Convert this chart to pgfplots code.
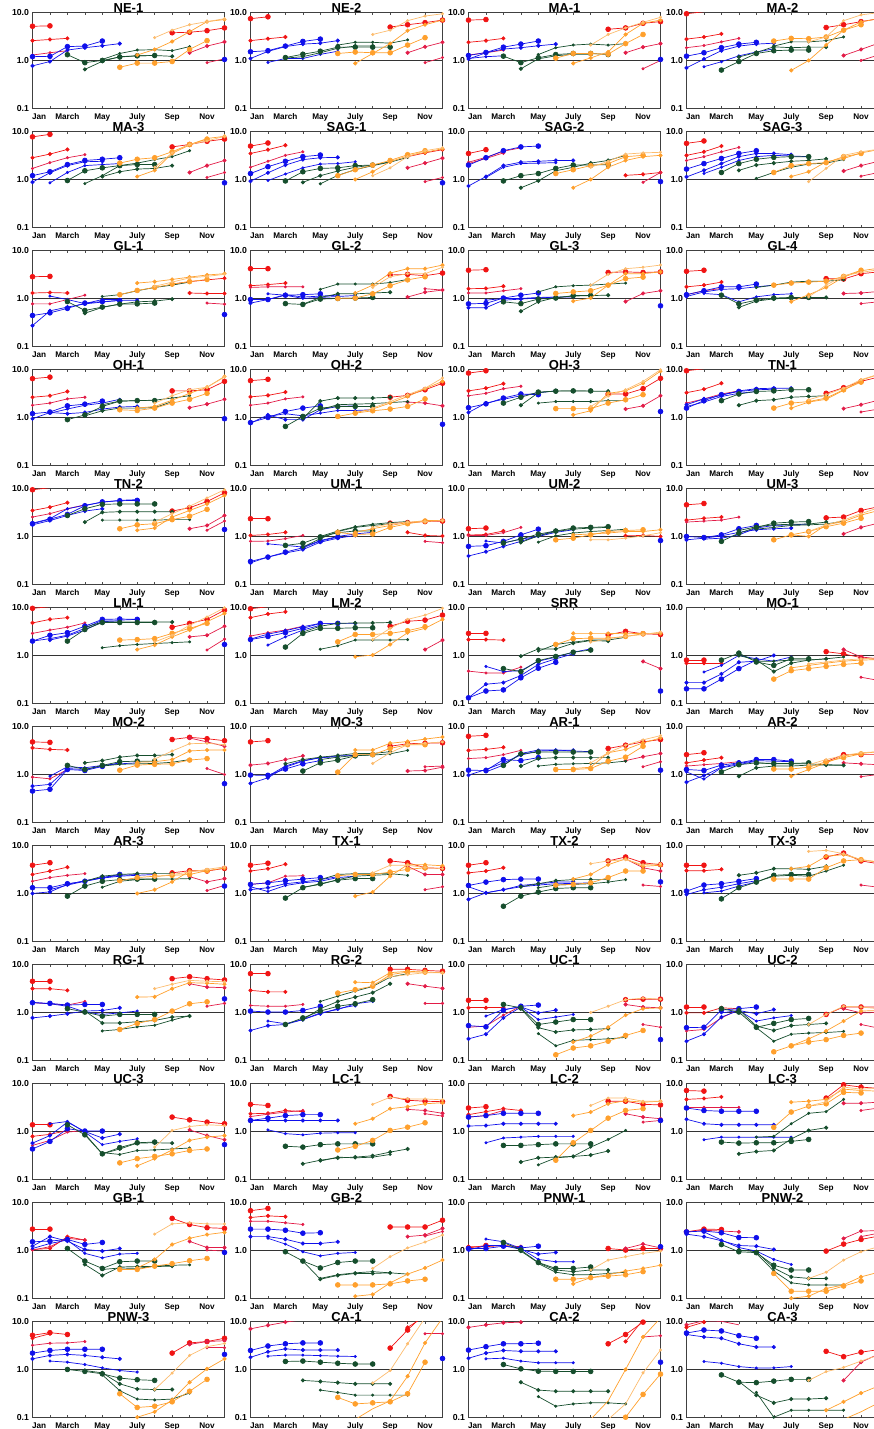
\documentclass[border=0pt]{standalone}
\usepackage{fontspec}
\setmainfont{Liberation Sans}
\usepackage{pgfplots}
\pgfplotsset{compat=1.18}
\usepgfplotslibrary{groupplots}
\definecolor{cr}{RGB}{240,20,20}
\definecolor{cc}{RGB}{226,28,72}
\definecolor{cb}{RGB}{15,15,235}
\definecolor{cg}{RGB}{22,78,45}
\definecolor{co}{RGB}{255,160,45}
\definecolor{cl}{RGB}{252,188,110}
\pgfplotsset{
 s1/.style={mark size=1.15pt},
 s2/.style={mark size=1.7pt},
 s3/.style={mark size=2.4pt},
}
\newcommand{\pR}[2]{\addplot[color=cr,#1] coordinates {#2};}
\newcommand{\pC}[2]{\addplot[color=cc,#1] coordinates {#2};}
\newcommand{\pB}[2]{\addplot[color=cb,#1] coordinates {#2};}
\newcommand{\pG}[2]{\addplot[color=cg,#1] coordinates {#2};}
\newcommand{\pO}[2]{\addplot[color=co,#1] coordinates {#2};}
\newcommand{\pL}[2]{\addplot[color=cl,#1] coordinates {#2};}
\begin{document}
\begin{tikzpicture}
\begin{groupplot}[
 group style={group size=4 by 12, horizontal sep=26pt, vertical sep=23.5pt},
 scale only axis, width=192pt, height=95.5pt,
 ymode=log, ymin=0.1, ymax=10, xmin=1, xmax=12,
 clip mode=individual, clip marker paths=false,
 ytick={0.1,1,10}, yticklabels={0.1,1.0,10.0},
 ymajorgrids, major grid style={black!80, line width=0.6pt},
 ytick style={draw=none},
 xtick={1.38,3,5,7,9,11}, xticklabels={Jan,March,May,July,Sep,Nov},
 minor xtick={1,2,...,12},
 major tick length=0pt, minor tick length=2.5pt, tick align=inside,
 xtick style={black!70, line width=0.5pt},
 axis line style={black!75, line width=0.7pt},
 yticklabel style={font=\bfseries\fontsize{8.7}{9}\selectfont},
 xticklabel style={font=\bfseries\fontsize{8.2}{9}\selectfont, yshift=-2pt},
 every axis title/.style={at={(0.5,1)}, anchor=base, inner sep=0pt, font=\bfseries\fontsize{13}{13}\selectfont},
 every axis plot/.append style={line width=0.7pt, mark=*, mark options={solid}},
]
% ---------------- row 1
\nextgroupplot[title={NE-1}]
\pR{s3}{(1,5.2)(2,5.3)}
\pR{s2}{(1,2.6)(2,2.75)(3,2.9)}
\pC{s1}{(1,1.3)(2,1.45)(3,1.6)}
\pR{s3}{(9,3.8)(10,3.9)(11,4.2)(12,4.8)}
\pC{s2}{(10,1.45)(11,2.0)(12,2.45)}
\pC{s1}{(11,0.9)(12,1.08)}
\pB{s3}{(1,1.2)(2,1.22)(3,1.95)(4,2.0)(5,2.55)}
\pB{s2}{(1,0.77)(2,0.95)(3,1.65)(4,1.85)(5,2.03)(6,2.25)}
\pB{s3}{(12,1.05)}
\pG{s3}{(3,1.32)(4,0.9)(5,1.0)(6,1.18)(7,1.25)(8,1.27)}
\pG{s2}{(4,0.65)(5,0.96)(6,1.2)(7,1.25)(8,1.27)(9,1.22)}
\pG{s1}{(5,1.05)(6,1.4)(7,1.65)(8,1.68)(9,1.6)(10,1.95)}
\pO{s3}{(6,0.72)(7,0.88)(8,0.88)(9,0.95)(10,1.7)(11,2.6)}
\pO{s2}{(7,1.3)(8,1.7)(9,2.5)(10,4.0)(11,6.5)(12,7.2)}
\pL{s1}{(8,3.0)(9,4.3)(10,5.6)(11,6.5)(12,7.5)}
\nextgroupplot[title={NE-2}]
\pR{s3}{(1,7.5)(2,8.2)}
\pR{s2}{(1,2.6)(2,2.85)(3,3.1)}
\pR{s3}{(9,5.0)(10,5.6)(11,6.2)(12,7.0)}
\pC{s2}{(10,1.45)(11,1.93)(12,2.4)}
\pC{s1}{(11,0.9)(12,1.15)}
\pB{s3}{(1,1.52)(2,1.6)(3,2.0)(4,2.5)(5,2.8)}
\pB{s2}{(1,1.1)(2,1.55)(3,1.95)(4,2.2)(5,2.3)(6,2.6)}
\pB{s1}{(2,0.91)(3,1.1)(4,1.1)(5,1.34)(6,1.56)}
\pG{s3}{(3,1.15)(4,1.35)(5,1.56)(6,1.9)(7,1.9)(8,1.9)(9,1.9)}
\pG{s2}{(3,1.12)(4,1.2)(5,1.45)(6,1.8)(7,2.0)(8,2.0)}
\pG{s1}{(6,2.1)(7,2.4)(8,2.4)(9,2.3)(10,2.7)}
\pO{s3}{(6,1.4)(7,1.5)(8,1.45)(9,1.45)(10,2.1)(11,3.0)}
\pO{s2}{(7,0.87)(8,1.4)(9,2.25)(10,4.2)(11,5.6)(12,7.0)}
\pL{s1}{(8,3.5)(9,4.3)(10,6.8)(11,8.5)(12,9.5)}
\nextgroupplot[title={MA-1}]
\pR{s3}{(1,7.0)(2,7.2)}
\pR{s2}{(1,2.4)(2,2.6)(3,2.9)}
\pC{s1}{(1,1.3)(2,1.45)(3,1.65)}
\pR{s3}{(9,4.5)(10,4.8)(11,6.0)(12,6.5)}
\pC{s2}{(10,1.45)(11,1.9)(12,2.25)}
\pC{s1}{(11,0.67)(12,1.0)}
\pB{s3}{(1,1.27)(2,1.47)(3,1.9)(4,2.2)(5,2.55)}
\pB{s2}{(1,1.07)(2,1.45)(3,1.73)(4,1.85)(5,2.03)(6,2.2)}
\pB{s1}{(1,1.1)(2,1.2)(3,1.25)}
\pB{s3}{(12,1.05)}
\pG{s3}{(3,1.23)(4,0.9)(5,1.14)(6,1.33)(7,1.4)(8,1.4)(9,1.33)}
\pG{s2}{(4,0.67)(5,1.08)(6,1.25)(7,1.35)(8,1.35)}
\pG{s1}{(5,1.33)(6,1.85)(7,2.1)(8,2.2)(9,2.1)(10,2.25)}
\pO{s3}{(6,1.12)(7,1.4)(8,1.4)(9,1.35)(10,2.25)(11,3.5)}
\pO{s2}{(7,0.87)(8,1.13)(9,1.5)(10,3.5)(11,6.0)(12,7.0)}
\pL{s1}{(8,2.1)(9,3.5)(10,4.8)(11,6.3)(12,8.0)}
\nextgroupplot[title={MA-2}]
\pR{s3,mark indices={1}}{(1,9.5)(2,10.5)}
\pR{s2}{(1,2.8)(2,3.1)(3,3.6)}
\pC{s1}{(1,1.85)(2,2.05)(3,2.45)(4,2.9)}
\pR{s3}{(9,4.9)(10,5.6)(11,6.5)(12,7.5)}
\pC{s2}{(10,1.27)(11,1.7)(12,2.3)}
\pC{s1}{(11,1.0)(12,1.3)}
\pB{s3}{(1,1.23)(2,1.45)(3,1.85)(4,2.2)(5,2.4)}
\pB{s2}{(1,0.7)(2,1.07)(3,1.6)(4,2.0)(5,2.2)(6,2.3)}
\pB{s1}{(2,0.74)(3,0.94)(4,1.25)(5,1.5)(6,1.75)}
\pG{s3}{(3,0.63)(4,0.95)(5,1.4)(6,1.6)(7,1.65)(8,1.65)}
\pG{s2}{(4,1.18)(5,1.47)(6,1.93)(7,1.85)(8,1.9)(9,1.9)}
\pG{s1}{(6,2.0)(7,2.45)(8,2.45)(9,2.6)(10,3.1)}
\pO{s3}{(6,2.55)(7,2.9)(8,2.85)(9,3.1)(10,4.3)(11,5.6)}
\pO{s2}{(7,0.62)(8,1.0)(9,2.1)(10,4.3)(11,6.4)(12,7.5)}
\pL{s1}{(8,2.45)(9,3.1)(10,6.8)(11,9.0)(12,10)}
% ---------------- row 2
\nextgroupplot[title={MA-3}]
\pR{s3}{(1,7.8)(2,8.8)}
\pR{s2}{(1,2.85)(2,3.4)(3,4.25)}
\pC{s1}{(1,1.7)(2,2.25)(3,2.85)(4,3.3)}
\pR{s3}{(9,4.8)(10,5.4)(11,6.3)(12,7.0)}
\pC{s2}{(10,1.4)(11,1.95)(12,2.5)}
\pC{s1}{(11,1.1)(12,1.4)}
\pB{s3}{(1,1.2)(2,1.45)(3,2.05)(4,2.5)(5,2.65)(6,2.85)}
\pB{s2}{(1,0.88)(2,1.38)(3,1.95)(4,2.35)(5,2.4)}
\pB{s1}{(2,0.85)(3,1.4)(4,1.95)(5,2.05)(6,2.15)}
\pB{s3}{(12,0.85)}
\pG{s3}{(3,0.95)(4,1.52)(5,1.75)(6,1.95)(7,2.05)(8,2.05)}
\pG{s2}{(5,1.15)(6,1.45)(7,1.65)(8,1.7)(9,1.95)}
\pG{s1}{(4,0.82)(5,1.2)(6,1.95)(7,2.2)(8,2.6)(9,3.0)(10,4.0)}
\pO{s3}{(6,2.2)(7,2.65)(8,2.85)(9,3.8)(10,5.4)(11,7.0)}
\pO{s2}{(7,1.15)(8,1.55)(9,3.5)(10,5.3)(11,7.2)(12,8.0)}
\pL{s1}{(8,1.8)(9,3.6)(10,5.4)(11,6.4)(12,8.0)}
\nextgroupplot[title={SAG-1}]
\pR{s3}{(1,5.0)(2,5.8)}
\pR{s2}{(1,3.5)(2,4.2)(3,5.2)}
\pC{s1}{(1,1.8)(2,2.4)(3,3.2)(4,3.8)}
\pR{s2}{(10,3.0)(11,3.6)(12,4.2)}
\pC{s2}{(10,1.75)(11,2.2)(12,2.8)}
\pC{s1}{(11,0.9)(12,1.1)}
\pB{s3}{(1,1.33)(2,1.85)(3,2.4)(4,3.0)(5,3.25)}
\pB{s2}{(1,0.92)(2,1.38)(3,2.0)(4,2.6)(5,2.85)(6,2.9)}
\pB{s1}{(2,0.95)(3,1.3)(4,1.75)(5,2.1)(6,2.15)(7,2.35)}
\pB{s3}{(12,0.85)}
\pG{s3}{(3,0.93)(4,1.45)(5,1.7)(6,1.75)(7,1.95)(8,2.0)}
\pG{s2}{(4,0.87)(5,1.2)(6,1.5)(7,1.8)(8,2.0)(9,2.35)}
\pG{s1}{(5,0.81)(6,1.22)(7,1.6)(8,1.95)(9,2.3)(10,2.9)}
\pO{s3}{(6,1.2)(7,1.6)(8,2.0)(9,2.5)(10,3.3)(11,4.0)}
\pO{s2}{(7,1.0)(8,1.45)(9,2.35)(10,3.1)(11,3.7)(12,4.4)}
\pL{s1}{(8,1.2)(9,1.75)(10,3.0)(11,4.0)(12,4.6)}
\nextgroupplot[title={SAG-2}]
\pR{s3}{(1,3.5)(2,4.2)}
\pC{s2}{(1,2.15)(2,2.75)(3,3.6)}
\pC{s1}{(1,2.3)(2,2.9)(3,3.9)(4,4.6)}
\pR{s2}{(10,1.22)(11,1.28)(12,1.4)}
\pC{s1}{(11,0.87)(12,1.4)}
\pB{s3}{(1,2.0)(2,2.85)(3,4.0)(4,4.8)(5,5.0)}
\pB{s2}{(1,0.73)(2,1.15)(3,1.95)(4,2.3)(5,2.4)(6,2.5)(7,2.5)}
\pB{s1}{(2,1.1)(3,1.8)(4,2.15)(5,2.2)(6,2.25)}
\pB{s3}{(12,0.9)}
\pG{s3}{(3,0.93)(4,1.2)(5,1.33)(6,1.7)(7,2.0)(8,2.0)(9,2.05)}
\pG{s2}{(4,0.67)(5,0.94)(6,1.52)(7,1.8)(8,2.2)(9,2.5)(10,3.2)}
\pO{s3}{(6,1.33)(7,1.6)(8,1.95)(9,2.15)(10,3.0)(11,3.2)}
\pO{s2}{(7,0.67)(8,1.0)(9,1.8)(10,2.5)(11,3.0)(12,3.2)}
\pL{s1}{(8,1.8)(9,2.4)(10,3.4)(11,3.6)(12,3.7)}
\nextgroupplot[title={SAG-3}]
\pR{s3}{(1,5.7)(2,6.4)}
\pR{s2}{(1,3.2)(2,3.8)(3,5.0)}
\pC{s1}{(1,2.5)(2,3.0)(3,3.8)(4,4.7)}
\pC{s2}{(10,1.5)(11,1.95)(12,2.4)}
\pC{s1}{(11,1.17)(12,1.4)}
\pB{s3}{(1,1.65)(2,2.15)(3,2.75)(4,3.5)(5,4.0)}
\pB{s2}{(1,1.13)(2,1.55)(3,2.15)(4,3.0)(5,3.5)(6,3.5)(7,3.3)}
\pB{s1}{(2,1.33)(3,1.8)(4,2.5)(5,3.0)(6,3.2)(7,3.1)(8,3.0)}
\pG{s3}{(3,1.4)(4,2.15)(5,2.65)(6,2.9)(7,3.0)(8,3.0)}
\pG{s2}{(4,1.55)(5,2.0)(6,2.2)(7,2.4)(8,2.5)(9,2.7)}
\pG{s1}{(5,1.05)(6,1.4)(7,1.8)(8,2.1)(9,2.2)(10,2.6)}
\pO{s3}{(6,1.4)(7,1.95)(8,2.15)(9,2.25)(10,3.0)(11,3.5)}
\pO{s2}{(7,1.15)(8,1.45)(9,2.35)(10,2.75)(11,3.6)(12,4.2)}
\pL{s1}{(8,0.9)(9,1.7)(10,3.2)(11,3.8)(12,4.3)}
% ---------------- row 3
\nextgroupplot[title={GL-1}]
\pR{s3}{(1,2.85)(2,2.9)}
\pR{s2}{(1,1.3)(2,1.33)(3,1.3)}
\pC{s1}{(1,0.77)(2,0.77)(3,0.95)(4,1.17)}
\pR{s2}{(9,2.0)(10,2.25)(11,2.45)(12,2.65)}
\pR{s2}{(10,1.3)(11,1.27)(12,1.27)}
\pC{s1}{(11,0.8)(12,0.76)}
\pB{s3}{(1,0.44)(2,0.5)(3,0.62)(4,0.8)(5,0.86)(6,0.9)}
\pB{s2}{(1,0.27)(2,0.55)(3,0.66)(4,0.77)(5,0.84)(6,0.92)(7,0.92)}
\pB{s1}{(2,1.12)(3,0.95)(4,0.78)(5,0.95)(6,0.95)}
\pB{s3}{(12,0.46)}
\pG{s3}{(3,0.86)(4,0.56)(5,0.66)(6,0.76)(7,0.77)(8,0.8)}
\pG{s2}{(4,0.49)(5,0.65)(6,0.76)(7,0.85)(8,0.88)(9,0.97)}
\pG{s1}{(5,1.1)(6,1.2)(7,1.45)(8,1.7)(9,1.9)(10,2.2)}
\pO{s3}{(6,1.2)(7,1.47)(8,1.7)(9,2.0)(10,2.25)(11,2.5)}
\pO{s2}{(7,2.1)(8,2.25)(9,2.5)(10,2.8)(11,3.1)(12,3.3)}
\pL{s1}{(8,1.8)(9,2.2)(10,2.7)(11,2.9)(12,3.2)}
\nextgroupplot[title={GL-2}]
\pR{s3}{(1,4.2)(2,4.2)}
\pR{s2}{(1,1.85)(2,1.95)(3,2.1)}
\pC{s1}{(1,1.7)(2,1.75)(3,1.75)(4,1.75)}
\pR{s3}{(9,3.1)(10,3.2)(11,3.0)(12,3.4)}
\pC{s2}{(10,1.07)(11,1.35)(12,1.5)}
\pC{s1}{(11,1.6)(12,1.5)}
\pB{s3}{(1,0.95)(2,0.95)(3,1.17)(4,1.2)(5,1.25)}
\pB{s2}{(1,0.8)(2,0.95)(3,1.2)(4,1.07)(5,1.12)(6,1.17)}
\pB{s1}{(2,1.25)(3,1.17)(4,1.0)(5,1.05)(6,1.1)(7,1.15)}
\pG{s3}{(3,0.78)(4,0.75)(5,0.97)(6,1.0)(7,1.02)(8,1.05)}
\pG{s2}{(4,0.76)(5,1.05)(6,1.25)(7,1.25)(8,1.3)(9,1.35)}
\pG{s1}{(5,1.55)(6,2.0)(7,2.0)(8,2.0)(9,2.15)(10,2.5)}
\pO{s3}{(6,1.0)(7,1.02)(8,1.25)(9,1.85)(10,2.45)(11,2.85)}
\pO{s2}{(7,1.3)(8,1.9)(9,3.4)(10,4.2)(11,4.2)(12,5.0)}
\pL{s1}{(8,1.7)(9,2.85)(10,3.3)(11,3.3)(12,4.5)}
\nextgroupplot[title={GL-3}]
\pR{s3}{(1,3.9)(2,4.0)}
\pR{s2}{(1,1.6)(2,1.62)(3,1.8)}
\pC{s1}{(1,1.3)(2,1.3)(3,1.45)(4,1.6)}
\pR{s3}{(9,3.5)(10,3.6)(11,3.5)(12,3.6)}
\pC{s2}{(10,0.86)(11,1.27)(12,1.45)}
\pB{s3}{(1,0.77)(2,0.79)(3,1.02)(4,1.17)(5,1.3)}
\pB{s2}{(1,0.64)(2,0.64)(3,0.92)(4,0.97)(5,1.02)(6,1.07)}
\pB{s1}{(2,0.92)(3,1.0)(4,1.0)(5,1.05)(6,1.07)(7,1.07)}
\pB{s3}{(12,0.7)}
\pG{s3}{(3,0.85)(4,0.78)(5,0.97)(6,1.02)(7,1.15)(8,1.15)}
\pG{s2}{(4,0.54)(5,0.85)(6,1.05)(7,1.12)(8,1.15)(9,1.17)}
\pG{s1}{(5,1.37)(6,1.75)(7,1.85)(8,1.9)(9,2.0)(10,2.1)}
\pO{s3}{(6,1.27)(7,1.37)(8,1.45)(9,1.9)(10,2.6)(11,2.8)}
\pO{s2}{(7,0.88)(8,1.02)(9,1.9)(10,3.3)(11,3.3)(12,3.6)}
\pL{s1}{(8,1.9)(9,3.2)(10,4.2)(11,4.5)(12,5.0)}
\nextgroupplot[title={GL-4}]
\pR{s3}{(1,3.7)(2,3.9)}
\pR{s2}{(1,1.75)(2,1.9)(3,2.2)}
\pC{s1}{(1,1.2)(2,1.45)(3,1.62)}
\pR{s3}{(9,2.6)(10,2.55)(11,3.3)(12,3.6)}
\pC{s2}{(10,1.27)(11,1.3)(12,1.4)}
\pC{s1}{(11,0.78)(12,0.85)}
\pB{s3}{(1,1.2)(2,1.45)(3,1.75)(4,1.75)(5,2.0)}
\pB{s2}{(1,1.1)(2,1.37)(3,1.55)(4,1.6)(5,1.75)(6,1.9)}
\pB{s1}{(2,1.27)(3,1.2)(4,0.85)(5,1.08)(6,1.2)(7,1.25)}
\pG{s3}{(3,1.17)(4,0.77)(5,0.92)(6,1.02)(7,1.05)(8,1.05)}
\pG{s2}{(4,0.65)(5,0.88)(6,0.98)(7,1.02)(8,1.05)(9,1.05)}
\pG{s1}{(5,1.7)(6,1.9)(7,2.2)(8,2.3)(9,2.3)(10,2.45)}
\pO{s3}{(6,1.9)(7,2.1)(8,2.2)(9,2.3)(10,2.9)(11,3.9)}
\pO{s2}{(7,0.86)(8,1.2)(9,1.7)(10,2.8)(11,3.8)(12,4.3)}
\pL{s1}{(8,1.08)(9,1.9)(10,3.0)(11,3.5)(12,4.0)}
% ---------------- row 4
\nextgroupplot[title={OH-1}]
\pR{s3}{(1,6.5)(2,7.0)}
\pR{s2}{(1,2.65)(2,2.85)(3,3.5)}
\pC{s1}{(1,1.8)(2,2.0)(3,2.45)(4,2.65)}
\pR{s3}{(9,3.6)(10,3.6)(11,3.8)(12,5.7)}
\pC{s2}{(10,1.6)(11,1.9)(12,2.4)}
\pB{s3}{(1,1.2)(2,1.3)(3,1.75)(4,1.9)(5,2.2)}
\pB{s2}{(1,0.94)(2,1.27)(3,1.2)(4,1.27)(5,1.5)(6,1.65)(7,1.7)}
\pB{s1}{(2,1.23)(3,1.5)(4,1.8)(5,2.0)(6,2.4)}
\pB{s3}{(12,0.94)}
\pG{s3}{(3,0.9)(4,1.13)(5,1.7)(6,2.2)(7,2.25)(8,2.25)}
\pG{s2}{(4,1.08)(5,1.38)(6,1.57)(7,1.57)(8,1.6)(9,2.15)}
\pG{s1}{(5,1.85)(6,2.2)(7,2.25)(8,2.3)(9,2.55)(10,2.85)}
\pO{s3}{(6,1.45)(7,1.4)(8,1.57)(9,2.0)(10,2.4)(11,3.2)}
\pO{s2}{(7,1.57)(8,1.7)(9,2.3)(10,3.2)(11,4.3)(12,7.2)}
\pL{s1}{(8,2.0)(9,2.85)(10,3.8)(11,4.3)(12,7.0)}
\nextgroupplot[title={OH-2}]
\pR{s3}{(1,5.9)(2,6.3)}
\pR{s2}{(1,2.7)(2,2.9)(3,3.4)}
\pC{s1}{(1,1.8)(2,2.0)(3,2.45)(4,2.7)}
\pR{s3}{(9,2.65)(10,2.9)(11,3.8)(12,5.2)}
\pC{s2}{(10,2.1)(11,2.0)(12,1.75)}
\pB{s3}{(1,0.78)(2,1.0)(3,1.33)(4,1.57)(5,1.75)}
\pB{s2}{(1,0.76)(2,1.13)(3,0.9)(4,0.9)(5,1.45)(6,1.7)(7,1.75)}
\pB{s1}{(2,1.05)(3,1.2)(4,1.08)(5,1.23)(6,1.4)(7,1.4)(8,1.45)}
\pB{s3}{(12,0.72)}
\pG{s3}{(3,0.65)(4,1.05)(5,1.57)(6,1.7)(7,1.7)(8,1.7)}
\pG{s2}{(4,0.95)(5,2.2)(6,2.55)(7,2.55)(8,2.55)(9,2.65)}
\pG{s1}{(5,1.45)(6,1.85)(7,1.9)(8,1.95)(9,2.05)(10,2.15)}
\pO{s3}{(6,1.05)(7,1.23)(8,1.38)(9,1.5)(10,1.7)(11,2.45)}
\pO{s2}{(7,1.27)(8,1.5)(9,2.0)(10,2.75)(11,4.0)(12,5.7)}
\pL{s1}{(8,1.57)(9,2.15)(10,3.0)(11,4.1)(12,6.7)}
\nextgroupplot[title={OH-3}]
\pR{s3}{(1,8.5)(2,9.5)}
\pR{s2}{(1,3.6)(2,4.1)(3,5.1)}
\pC{s1}{(1,2.85)(2,3.2)(3,4.0)(4,4.5)}
\pR{s3}{(9,3.1)(10,3.1)(11,4.0)(12,6.6)}
\pC{s2}{(10,1.5)(11,1.75)(12,2.85)}
\pB{s3}{(1,1.6)(2,1.93)(3,2.55)(4,3.1)(5,3.0)}
\pB{s2}{(1,1.27)(2,2.0)(3,2.4)(4,2.85)(5,3.3)(6,3.6)}
\pB{s3}{(12,1.33)}
\pG{s3}{(3,2.0)(4,2.65)(5,3.4)(6,3.55)(7,3.6)(8,3.6)}
\pG{s2}{(4,1.8)(5,3.3)(6,3.6)(7,3.6)(8,3.55)(9,3.55)}
\pG{s1}{(5,2.0)(6,2.15)(7,2.15)(8,2.15)(9,2.25)(10,2.25)}
\pO{s3}{(6,1.53)(7,1.53)(8,1.53)(9,2.0)(10,2.35)(11,3.0)}
\pO{s2}{(7,1.13)(8,1.38)(9,3.2)(10,3.6)(11,5.2)(12,9.3)}
\pL{s1}{(8,1.7)(9,2.8)(10,3.8)(11,5.7)(12,10)}
\nextgroupplot[title={TN-1}]
\pR{s3,mark indices={1}}{(1,9.5)(2,10.5)}
\pR{s2}{(1,3.3)(2,3.9)(3,5.2)}
\pC{s1}{(1,2.0)(2,2.45)(3,3.1)(4,3.6)}
\pR{s3}{(9,3.2)(10,4.2)(11,5.7)(12,7.0)}
\pC{s2}{(10,1.53)(11,1.85)(12,2.3)}
\pC{s1}{(11,1.3)(12,1.5)}
\pB{s3}{(1,1.57)(2,2.25)(3,3.0)(4,3.5)(5,3.8)(6,3.9)}
\pB{s2}{(1,1.85)(2,2.45)(3,2.9)(4,3.6)(5,4.0)(6,4.1)(7,4.1)}
\pB{s1}{(1,1.7)(2,2.1)(3,2.75)(4,3.2)(5,3.5)}
\pG{s3}{(3,2.25)(4,3.1)(5,3.5)(6,3.6)(7,3.8)(8,3.8)}
\pG{s2}{(4,1.8)(5,2.25)(6,2.35)(7,2.65)(8,2.75)(9,2.85)}
\pO{s3}{(6,1.57)(7,2.0)(8,2.15)(9,2.55)(10,3.8)(11,5.5)}
\pO{s2}{(7,1.57)(8,2.1)(9,2.4)(10,3.7)(11,6.0)(12,8.0)}
\pL{s1}{(8,2.35)(9,3.0)(10,4.1)(11,6.2)(12,8.0)}
% ---------------- row 5
\nextgroupplot[title={TN-2}]
\pR{s3,mark indices={1}}{(1,9.5)(2,10.5)}
\pR{s2}{(1,3.5)(2,4.1)(3,5.1)}
\pC{s1}{(1,2.55)(2,3.0)(3,3.8)(4,4.6)}
\pR{s3}{(9,3.4)(10,4.0)(11,5.4)(12,8.2)}
\pC{s2}{(10,1.45)(11,1.7)(12,2.75)}
\pC{s1}{(11,1.35)(12,2.1)}
\pB{s3}{(1,1.85)(2,2.3)(3,2.9)(4,4.4)(5,5.3)(6,5.6)(7,5.7)}
\pB{s2}{(1,1.75)(2,2.15)(3,2.75)(4,3.4)(5,3.8)}
\pB{s1}{(1,1.9)(2,2.35)(3,3.8)(4,4.5)(5,5.2)(6,5.7)(7,5.9)}
\pB{s3}{(12,1.4)}
\pG{s3}{(3,2.75)(4,3.8)(5,4.7)(6,4.8)(7,4.8)(8,4.8)}
\pG{s2}{(4,2.0)(5,3.2)(6,3.3)(7,3.3)(8,3.3)(9,3.3)}
\pG{s1}{(5,2.2)(6,2.2)(7,2.2)(8,2.2)(9,2.25)(10,2.25)}
\pO{s3}{(6,1.45)(7,1.75)(8,1.85)(9,2.25)(10,2.65)(11,3.7)}
\pO{s2}{(7,1.35)(8,1.5)(9,2.55)(10,3.5)(11,4.8)(12,7.2)}
\pL{s1}{(8,2.0)(9,3.0)(10,4.3)(11,6.4)(12,9.5)}
\nextgroupplot[title={UM-1}]
\pR{s3}{(1,2.35)(2,2.35)}
\pR{s2}{(1,1.05)(2,1.1)(3,1.22)}
\pC{s1}{(1,0.79)(2,0.8)(3,0.9)(4,1.05)}
\pR{s3}{(9,1.9)(10,1.95)(11,2.05)(12,2.1)}
\pR{s2}{(10,1.22)(11,1.05)(12,1.02)}
\pC{s1}{(11,0.79)(12,0.74)}
\pB{s3}{(1,0.3)(2,0.37)(3,0.47)(4,0.58)(5,0.8)(6,0.97)}
\pB{s2}{(1,0.28)(2,0.37)(3,0.45)(4,0.53)(5,0.76)(6,0.92)(7,1.05)}
\pB{s1}{(2,0.7)(3,0.65)(4,0.6)(5,0.82)(6,1.0)(7,1.13)(8,1.22)}
\pG{s3}{(3,0.65)(4,0.72)(5,0.98)(6,1.2)(7,1.3)(8,1.3)}
\pG{s2}{(4,0.6)(5,0.9)(6,1.27)(7,1.55)(8,1.7)(9,1.85)}
\pG{s1}{(5,1.0)(6,1.3)(7,1.6)(8,1.8)(9,1.95)(10,2.05)}
\pO{s3}{(6,1.22)(7,1.1)(8,1.13)(9,1.55)(10,1.85)(11,2.1)}
\pO{s2}{(7,1.22)(8,1.45)(9,1.7)(10,1.95)(11,2.15)(12,2.15)}
\pL{s1}{(8,1.55)(9,1.85)(10,2.0)(11,2.05)(12,2.15)}
\nextgroupplot[title={UM-2}]
\pR{s3}{(1,1.45)(2,1.5)}
\pR{s2}{(1,1.07)(2,1.1)(3,1.3)}
\pC{s1}{(1,1.05)(2,1.05)(3,1.2)(4,1.55)}
\pR{s2}{(10,1.03)(11,1.05)(12,1.0)}
\pB{s3}{(1,0.62)(2,0.64)(3,0.79)(4,1.08)(5,1.42)}
\pB{s2}{(1,0.39)(2,0.48)(3,0.62)(4,0.79)(5,1.03)(6,1.33)}
\pB{s1}{(2,0.8)(3,0.73)(4,0.88)(5,1.0)(6,1.22)(7,1.38)}
\pB{s3}{(12,0.82)}
\pG{s3}{(3,0.73)(4,0.88)(5,1.12)(6,1.3)(7,1.5)(8,1.55)(9,1.6)}
\pG{s2}{(4,0.75)(5,1.03)(6,1.27)(7,1.42)(8,1.5)(9,1.55)}
\pG{s1}{(5,0.76)(6,1.03)(7,1.18)(8,1.27)(9,1.33)(10,1.42)}
\pO{s3}{(6,0.85)(7,0.92)(8,1.08)(9,1.27)(10,1.33)(11,1.38)}
\pO{s2}{(7,1.08)(8,1.13)(9,1.18)(10,1.27)(11,1.27)(12,1.38)}
\pL{s1}{(8,0.85)(9,0.85)(10,0.92)(11,1.03)(12,1.2)}
\nextgroupplot[title={UM-3}]
\pR{s3}{(1,4.6)(2,4.9)}
\pR{s2}{(1,2.2)(2,2.4)(3,2.55)}
\pC{s1}{(1,2.0)(2,2.1)(3,2.2)(4,2.55)}
\pR{s3}{(9,2.45)(10,2.55)(11,3.5)(12,4.2)}
\pC{s2}{(10,1.13)(11,1.55)(12,1.9)}
\pB{s3}{(1,1.0)(2,0.95)(3,1.08)(4,1.45)(5,1.7)}
\pB{s2}{(1,0.85)(2,0.92)(3,1.03)(4,1.22)(5,1.38)(6,1.45)(7,1.5)}
\pB{s1}{(2,0.88)(3,0.92)(4,1.08)(5,1.5)(6,1.7)(7,1.75)(8,1.82)}
\pG{s3}{(3,0.79)(4,1.17)(5,1.55)(6,1.9)(7,2.0)(8,2.05)}
\pG{s2}{(4,1.33)(5,1.6)(6,1.75)(7,1.8)(8,1.82)(9,2.0)}
\pG{s1}{(5,1.42)(6,1.55)(7,1.7)(8,1.75)(9,1.82)(10,2.1)}
\pO{s3}{(6,0.85)(7,1.08)(8,1.27)(9,1.6)(10,1.9)(11,2.4)}
\pO{s2}{(7,1.08)(8,1.0)(9,1.75)(10,2.05)(11,2.8)(12,3.5)}
\pL{s1}{(8,1.27)(9,1.75)(10,2.2)(11,3.0)(12,4.0)}
% ---------------- row 6
\nextgroupplot[title={LM-1}]
\pR{s3,mark indices={1}}{(1,9.7)(2,10.5)}
\pR{s2}{(1,4.8)(2,5.7)(3,6.2)}
\pC{s1}{(1,2.9)(2,3.4)(3,3.9)(4,4.8)}
\pR{s3}{(9,3.9)(10,4.7)(11,5.7)(12,8.9)}
\pC{s2}{(10,2.45)(11,2.65)(12,4.1)}
\pC{s1}{(11,1.3)(12,2.2)}
\pB{s3}{(1,2.0)(2,2.65)(3,3.0)(4,4.1)(5,5.7)(6,5.8)(7,5.7)}
\pB{s2}{(2,2.1)(3,2.55)(4,3.4)(5,5.1)(6,5.3)}
\pB{s1}{(1,2.0)(2,2.25)(3,2.65)(4,3.7)(5,5.5)(6,5.5)(7,5.7)}
\pB{s3}{(12,1.7)}
\pG{s3}{(3,2.0)(4,3.5)(5,4.9)(6,4.9)(7,4.9)(8,4.9)}
\pG{s2}{(4,3.9)(5,5.0)(6,5.0)(7,5.0)(8,5.0)(9,5.0)}
\pG{s1}{(5,1.45)(6,1.6)(7,1.7)(8,1.78)(9,1.85)(10,1.93)}
\pO{s3}{(6,2.1)(7,2.15)(8,2.25)(9,2.9)(10,3.7)(11,4.7)}
\pO{s2}{(7,1.33)(8,1.65)(9,2.45)(10,3.4)(11,5.1)(12,7.6)}
\pL{s1}{(8,1.93)(9,2.65)(10,4.3)(11,6.4)(12,10)}
\nextgroupplot[title={LM-2}]
\pR{s3,mark indices={1}}{(1,9.5)(2,10.5)}
\pR{s2}{(1,6.2)(2,7.4)(3,8.2)}
\pC{s1}{(1,2.55)(2,3.0)(3,3.4)(4,4.1)}
\pR{s3}{(9,4.1)(10,5.2)(11,5.5)(12,7.0)}
\pC{s2}{(11,1.33)(12,2.1)}
\pB{s3}{(1,2.15)(2,2.5)(3,3.0)(4,3.7)(5,4.7)(6,4.7)}
\pB{s2}{(1,2.2)(2,2.8)(3,3.3)(4,4.0)(5,4.7)(6,4.7)(7,4.7)}
\pB{s1}{(2,1.65)(3,2.45)(4,3.4)(5,4.3)}
\pG{s3}{(3,1.5)(4,2.9)(5,3.7)(6,3.7)(7,3.8)(8,3.8)}
\pG{s2}{(4,3.1)(5,4.1)(6,4.7)(7,4.8)(8,4.8)(9,4.9)}
\pG{s1}{(5,1.35)(6,1.6)(7,2.1)(8,2.1)(9,2.1)(10,2.15)}
\pO{s3}{(6,1.93)(7,2.75)(8,2.75)(9,2.9)(10,3.3)(11,4.0)}
\pO{s2}{(7,0.94)(8,1.02)(9,1.7)(10,3.0)(11,3.7)(12,5.7)}
\pL{s1}{(8,2.15)(9,3.7)(10,5.7)(11,7.0)(12,9.7)}
\nextgroupplot[title={SRR}]
\pR{s3}{(1,2.9)(2,2.9)}
\pR{s2}{(1,2.15)(2,2.15)(3,2.1)}
\pC{s1}{(1,0.47)(2,0.43)(3,0.43)(4,0.57)}
\pR{s3}{(9,2.7)(10,3.2)(11,2.85)(12,2.75)}
\pC{s2}{(11,0.75)(12,0.53)}
\pB{s3}{(1,0.13)(2,0.18)(3,0.19)(4,0.34)(5,0.54)(6,0.72)}
\pB{s2}{(1,0.13)(2,0.25)(3,0.27)(4,0.38)(5,0.65)(6,0.85)(7,1.08)}
\pB{s1}{(2,0.59)(3,0.46)(4,0.48)(5,0.76)(6,0.92)(7,1.17)(8,1.37)}
\pB{s3}{(12,0.18)}
\pG{s3}{(3,0.53)(4,0.46)(5,0.78)(6,0.95)(7,1.17)(8,1.3)}
\pG{s2}{(4,0.97)(5,1.37)(6,1.37)(7,1.8)(8,2.05)(9,2.0)}
\pG{s1}{(5,1.23)(6,1.7)(7,1.9)(8,2.1)(9,2.1)(10,2.4)}
\pO{s3}{(6,1.7)(7,2.25)(8,2.3)(9,2.3)(10,2.5)(11,2.85)}
\pO{s2}{(7,2.9)(8,2.9)(9,2.9)(10,2.85)(11,2.9)(12,2.9)}
\pL{s1}{(8,1.9)(9,2.25)(10,2.5)(11,2.75)(12,3.1)}
\nextgroupplot[title={MO-1}]
\pR{s3}{(1,0.8)(2,0.8)}
\pR{s2}{(1,0.69)(2,0.69)(3,0.69)}
\pR{s3}{(9,1.2)(10,1.08)(11,0.9)(12,0.82)}
\pC{s2}{(10,1.33)(11,0.93)(12,0.85)}
\pC{s1}{(11,0.35)(12,0.3)}
\pB{s3}{(1,0.2)(2,0.2)(3,0.32)(4,0.53)(5,0.8)}
\pB{s2}{(1,0.27)(2,0.27)(3,0.41)(4,0.72)(5,0.76)(6,1.0)}
\pB{s1}{(2,0.45)(3,0.62)(4,1.0)(5,0.85)(6,0.76)(7,0.93)}
\pG{s3}{(3,0.8)(4,1.12)(5,0.73)(6,0.62)(7,0.85)(8,0.85)}
\pG{s2}{(4,1.0)(5,0.8)(6,0.46)(7,0.69)(8,0.8)(9,0.85)}
\pG{s1}{(5,0.76)(6,0.76)(7,0.8)(8,0.8)(9,0.85)(10,0.93)}
\pO{s3}{(6,0.32)(7,0.48)(8,0.53)(9,0.59)(10,0.65)(11,0.69)}
\pO{s2}{(7,0.55)(8,0.62)(9,0.69)(10,0.76)(11,0.8)(12,0.82)}
\pL{s1}{(8,0.67)(9,0.73)(10,0.8)(11,0.85)(12,0.88)}
% ---------------- row 7
\nextgroupplot[title={MO-2}]
\pR{s3}{(1,4.8)(2,4.7)}
\pR{s2}{(1,3.6)(2,3.35)(3,3.25)}
\pC{s1}{(1,0.88)(2,0.81)(3,1.27)}
\pR{s3}{(9,5.4)(10,6.0)(11,5.6)(12,5.1)}
\pC{s2}{(10,5.8)(11,4.8)(12,3.9)}
\pC{s1}{(11,1.33)(12,1.0)}
\pB{s3}{(1,0.45)(2,0.49)(3,1.27)(4,1.21)(5,1.47)}
\pB{s2}{(1,0.57)(2,0.62)(3,1.33)(4,1.27)(5,1.5)(6,1.75)}
\pB{s1}{(2,0.92)(3,1.45)(4,1.38)(5,1.55)(6,1.67)(7,1.75)}
\pB{s3}{(12,0.64)}
\pG{s3}{(3,1.55)(4,1.27)(5,1.55)(6,1.85)(7,1.9)(8,1.9)}
\pG{s2}{(4,1.75)(5,1.95)(6,2.3)(7,2.5)(8,2.5)(9,2.6)}
\pG{s1}{(5,1.5)(6,1.63)(7,1.67)(8,1.7)(9,1.8)(10,2.05)}
\pO{s3}{(6,1.23)(7,1.57)(8,1.63)(9,1.67)(10,2.0)(11,2.15)}
\pO{s2}{(7,1.8)(8,1.85)(9,2.05)(10,3.1)(11,3.25)(12,3.25)}
\pL{s1}{(8,2.1)(9,3.1)(10,4.4)(11,4.5)(12,4.2)}
\nextgroupplot[title={MO-3}]
\pR{s3}{(1,4.8)(2,5.1)}
\pC{s2}{(1,1.57)(2,1.7)(3,2.05)(4,2.45)}
\pR{s3}{(9,3.9)(10,4.4)(11,4.5)(12,4.6)}
\pC{s2}{(10,1.18)(11,1.21)(12,1.42)}
\pC{s1}{(11,1.45)(12,1.5)}
\pB{s3}{(1,0.97)(2,0.96)(3,1.3)(4,1.67)(5,1.95)}
\pB{s2}{(1,0.65)(2,0.85)(3,1.42)(4,1.9)(5,2.25)(6,2.35)}
\pB{s1}{(2,0.92)(3,1.5)(4,1.95)(5,2.25)(6,2.45)(7,2.5)}
\pG{s3}{(4,1.18)(5,1.75)(6,2.0)(7,2.45)(8,2.6)}
\pG{s2}{(3,1.67)(4,2.05)(5,2.3)(6,2.5)(7,2.75)(8,2.75)(9,3.0)}
\pG{s1}{(5,2.05)(6,2.3)(7,2.5)(8,2.55)(9,2.7)(10,3.2)}
\pO{s3}{(6,1.12)(7,2.6)(8,2.6)(9,3.5)(10,4.2)(11,4.2)}
\pO{s2}{(7,3.25)(8,3.25)(9,4.5)(10,4.9)(11,5.5)(12,6.1)}
\pL{s1}{(8,1.7)(9,2.85)(10,4.2)(11,4.5)(12,4.8)}
\nextgroupplot[title={AR-1}]
\pR{s3}{(1,6.3)(2,6.6)}
\pR{s2}{(1,3.2)(2,3.35)(3,3.7)}
\pC{s1}{(1,2.15)(2,2.25)(3,2.6)(4,3.2)}
\pR{s3}{(9,3.5)(10,4.1)(11,4.8)(12,5.4)}
\pC{s2}{(10,1.95)(11,2.35)(12,2.75)}
\pC{s1}{(11,1.45)(12,1.85)}
\pB{s3}{(1,1.23)(2,1.21)(3,2.05)(4,1.95)(5,2.25)}
\pB{s2}{(1,0.97)(2,1.27)(3,1.75)(4,2.55)(5,3.1)(6,3.2)(7,3.2)}
\pB{s1}{(2,1.13)(3,1.57)(4,2.75)(5,3.25)(6,3.25)(7,3.1)(8,3.0)}
\pB{s3}{(12,1.23)}
\pG{s3}{(3,1.55)(4,2.7)(5,2.95)(6,2.95)(7,2.95)(8,2.95)}
\pG{s2}{(4,1.5)(5,2.15)(6,2.25)(7,2.25)(8,2.25)(9,2.25)}
\pG{s1}{(5,1.5)(6,1.63)(7,1.67)(8,1.7)(9,1.75)(10,1.9)}
\pO{s3}{(6,1.27)(7,1.27)(8,1.33)(9,1.9)(10,2.3)(11,3.9)}
\pO{s2}{(7,1.33)(8,1.42)(9,2.85)(10,3.35)(11,4.6)(12,5.8)}
\pL{s1}{(8,1.75)(9,2.85)(10,4.1)(11,5.3)(12,6.5)}
\nextgroupplot[title={AR-2}]
\pR{s3}{(1,2.6)(2,2.85)}
\pR{s2}{(1,1.75)(2,2.0)(3,2.25)}
\pC{s1}{(1,1.5)(2,1.6)(3,1.7)(4,1.85)}
\pR{s3}{(9,1.85)(10,2.6)(11,2.6)(12,2.6)}
\pC{s2}{(10,1.75)(11,1.67)(12,1.6)}
\pC{s1}{(11,0.9)(12,1.0)}
\pB{s3}{(1,1.27)(2,1.21)(3,1.57)(4,1.75)(5,2.05)(6,2.05)(7,1.9)}
\pB{s2}{(1,0.69)(2,0.95)(3,1.42)(4,1.7)(5,1.95)(6,1.9)(7,1.85)}
\pB{s1}{(1,1.13)(2,0.8)(3,1.38)(4,1.6)(5,1.9)}
\pG{s3}{(3,1.13)(4,1.6)(5,1.75)(6,1.7)(7,1.7)(8,1.75)}
\pG{s2}{(4,0.92)(5,1.38)(6,1.5)(7,1.5)(8,1.57)(9,1.57)(10,1.55)}
\pG{s1}{(5,1.75)(6,1.67)(7,1.67)(8,1.67)(9,1.6)(10,1.57)}
\pO{s3}{(6,1.3)(7,1.3)(8,1.42)(9,1.85)(10,2.25)(11,2.7)}
\pO{s2}{(7,0.92)(8,1.27)(9,1.75)(10,2.45)(11,2.75)(12,3.0)}
\pL{s1}{(8,1.6)(9,2.05)(10,2.5)(11,2.85)(12,3.0)}
% ---------------- row 8
\nextgroupplot[title={AR-3}]
\pR{s3}{(1,3.9)(2,4.4)}
\pR{s2}{(1,2.5)(2,2.95)(3,3.55)}
\pC{s1}{(1,1.8)(2,2.15)(3,2.4)(4,2.6)}
\pR{s3}{(9,2.7)(10,3.0)(11,2.95)(12,3.35)}
\pC{s2}{(10,2.25)(11,1.75)(12,2.05)}
\pC{s1}{(11,1.15)(12,1.47)}
\pB{s3}{(1,1.32)(2,1.32)(3,1.6)(4,1.8)(5,2.15)(6,2.5)}
\pB{s2}{(1,1.0)(2,1.08)(3,1.55)(4,1.85)(5,2.15)(6,2.4)(7,2.5)}
\pB{s1}{(2,1.2)(3,1.5)(4,1.8)(5,2.1)(6,2.3)(7,2.4)(8,2.5)}
\pB{s3}{(12,1.43)}
\pG{s3}{(3,0.88)(4,1.43)(5,1.8)(6,1.95)(7,2.0)(8,2.0)}
\pG{s2}{(4,1.8)(5,2.3)(6,2.5)(7,2.6)(8,2.6)(9,2.6)}
\pG{s1}{(5,1.35)(6,1.8)(7,1.95)(8,2.0)(9,2.0)(10,2.05)}
\pO{s3}{(6,1.85)(7,2.15)(8,2.3)(9,2.4)(10,2.5)(11,3.0)}
\pO{s2}{(7,1.0)(8,1.2)(9,1.75)(10,2.95)(11,3.0)(12,3.4)}
\pL{s1}{(8,2.2)(9,2.5)(10,2.8)(11,3.2)(12,3.6)}
\nextgroupplot[title={TX-1}]
\pR{s3}{(1,3.9)(2,4.3)}
\pR{s2}{(1,2.95)(2,3.3)(3,4.1)}
\pC{s1}{(1,1.55)(2,1.67)(3,2.3)(4,2.35)}
\pR{s3}{(9,4.8)(10,4.4)(11,3.45)(12,3.35)}
\pC{s2}{(10,3.7)(11,2.5)(12,2.5)}
\pC{s1}{(11,1.2)(12,1.38)}
\pB{s3}{(1,1.55)(2,1.67)(3,1.85)(4,2.0)(5,2.15)}
\pB{s2}{(1,1.2)(2,1.32)(3,1.6)(4,1.75)(5,1.95)(6,2.25)}
\pB{s1}{(1,1.38)(2,1.1)(3,1.47)(4,1.67)(5,1.8)(6,2.15)(7,2.3)}
\pG{s3}{(3,0.8)(4,1.32)(5,1.6)(6,1.9)(7,2.05)(8,2.05)}
\pG{s2}{(4,1.35)(5,1.55)(6,1.95)(7,2.3)(8,2.4)(9,2.5)}
\pG{s1}{(5,1.95)(6,2.5)(7,2.6)(8,2.6)(9,2.6)(10,2.4)}
\pO{s3}{(6,2.35)(7,2.5)(8,2.5)(9,2.8)(10,3.2)(11,3.45)}
\pO{s2}{(7,0.88)(8,1.07)(9,2.3)(10,4.0)(11,4.0)(12,3.8)}
\pL{s1}{(8,2.7)(9,3.9)(10,3.9)(11,3.5)(12,3.3)}
\nextgroupplot[title={TX-2}]
\pR{s3}{(1,3.9)(2,4.4)}
\pR{s2}{(1,2.7)(2,2.95)(3,3.45)}
\pR{s3}{(9,4.8)(10,5.8)(11,4.4)(12,4.0)}
\pC{s2}{(10,5.3)(11,3.45)(12,2.95)}
\pC{s1}{(11,1.5)(12,1.4)}
\pB{s3}{(1,1.47)(2,1.73)(3,1.95)(4,2.0)(5,2.0)}
\pB{s2}{(1,0.75)(2,1.03)(3,1.2)(4,1.47)(5,1.6)(6,1.73)(7,1.75)}
\pB{s1}{(1,1.38)(2,1.03)(3,1.2)(4,1.38)(5,1.5)(6,1.6)(7,1.62)(8,1.67)}
\pB{s3}{(12,1.75)}
\pG{s3}{(3,0.54)(4,0.88)(5,1.07)(6,1.27)(7,1.32)(8,1.32)}
\pG{s2}{(4,1.38)(5,1.6)(6,1.85)(7,1.95)(8,1.95)(9,1.95)}
\pG{s1}{(5,1.32)(6,1.5)(7,1.55)(8,1.6)(9,1.73)(10,1.95)}
\pO{s3}{(6,1.5)(7,1.55)(8,1.67)(9,2.15)(10,2.95)(11,2.95)}
\pO{s2}{(7,2.0)(8,2.5)(9,4.0)(10,5.3)(11,3.7)(12,3.9)}
\pL{s1}{(8,4.2)(9,4.8)(10,5.1)(11,4.0)(12,4.2)}
\nextgroupplot[title={TX-3}]
\pR{s3}{(1,3.9)(2,3.9)}
\pR{s2}{(1,3.0)(2,3.0)(3,3.2)}
\pR{s3}{(9,5.8)(10,7.0)(11,4.8)(12,4.2)}
\pC{s1}{(11,1.5)(12,1.35)}
\pB{s3}{(1,1.12)(2,1.5)(3,1.6)(4,1.8)(5,2.05)}
\pB{s2}{(1,0.95)(2,1.2)(3,1.35)(4,1.6)(5,1.85)}
\pB{s1}{(2,1.03)(3,1.12)(4,1.43)(5,1.73)}
\pG{s3}{(3,0.77)(4,1.32)(5,1.73)(6,2.4)(7,2.5)(8,2.5)}
\pG{s2}{(4,2.4)(5,2.7)(6,3.3)(7,3.3)(8,3.2)(9,3.7)}
\pG{s1}{(5,1.75)(6,2.3)(7,2.4)(8,2.3)(9,2.95)(10,3.9)}
\pO{s3}{(6,2.0)(7,2.0)(8,2.0)(9,3.45)(10,4.8)(11,5.1)}
\pO{s2}{(7,3.3)(8,3.7)(9,6.0)(10,6.5)(11,5.1)(12,4.5)}
\pL{s1}{(8,7.6)(9,8.0)(10,6.8)(11,5.1)(12,4.6)}
% ---------------- row 9
\nextgroupplot[title={RG-1}]
\pR{s3}{(1,4.5)(2,4.5)}
\pR{s2}{(1,3.15)(2,3.15)(3,2.9)}
\pC{s1}{(1,1.6)(2,1.52)(3,1.43)(4,1.7)}
\pR{s3}{(9,5.1)(10,5.6)(11,5.1)(12,4.8)}
\pC{s2}{(10,4.0)(11,3.4)(12,3.3)}
\pC{s1}{(11,1.35)(12,1.55)}
\pB{s3}{(1,1.6)(2,1.55)(3,1.43)(4,1.47)(5,1.47)}
\pB{s2}{(1,0.77)(2,0.84)(3,0.94)(4,1.07)(5,1.1)(6,1.25)}
\pB{s1}{(1,1.63)(2,1.52)(3,1.35)(4,1.02)(5,0.91)(6,0.98)(7,1.07)}
\pB{s3}{(12,1.93)}
\pG{s3}{(3,1.2)(4,1.02)(5,0.84)(6,0.91)(7,0.91)(8,0.91)}
\pG{s2}{(4,1.07)(5,0.6)(6,0.6)(7,0.64)(8,0.68)(9,0.8)(10,0.84)}
\pG{s1}{(5,0.41)(6,0.44)(7,0.5)(8,0.54)(9,0.69)(10,0.86)}
\pO{s3}{(6,0.44)(7,0.59)(8,0.71)(9,1.07)(10,1.52)(11,1.67)}
\pO{s2}{(7,2.1)(8,2.13)(9,3.15)(10,4.2)(11,4.1)(12,3.9)}
\pL{s1}{(8,3.15)(9,3.9)(10,4.7)(11,4.5)(12,4.4)}
\nextgroupplot[title={RG-2}]
\pR{s3}{(1,6.5)(2,6.5)}
\pR{s2}{(1,2.9)(2,2.7)(3,2.7)}
\pC{s1}{(1,1.4)(2,1.35)(3,1.35)(4,1.47)}
\pR{s3}{(9,8.0)(10,8.0)(11,7.6)(12,7.3)}
\pC{s2}{(10,4.0)(11,3.55)(12,3.2)}
\pC{s1}{(11,1.55)(12,1.55)}
\pB{s3}{(1,1.07)(2,1.02)(3,1.02)(4,1.1)(5,1.35)}
\pB{s2}{(1,0.42)(2,0.53)(3,0.56)(4,0.71)(5,0.94)(6,1.2)(7,1.4)}
\pB{s1}{(2,0.66)(3,0.58)(4,0.71)(5,0.98)(6,1.15)(7,1.52)(8,1.7)}
\pG{s3}{(3,0.56)(4,0.77)(5,1.07)(6,1.35)(7,1.52)(8,1.85)}
\pG{s2}{(4,0.71)(5,1.2)(6,1.7)(7,2.1)(8,2.6)(9,4.0)}
\pG{s1}{(5,1.7)(6,2.2)(7,2.8)(8,3.5)(9,5.5)(10,6.5)}
\pO{s3}{(6,2.55)(7,3.0)(8,3.55)(9,6.2)(10,7.0)(11,7.0)}
\pO{s2}{(7,4.3)(8,4.2)(9,6.8)(10,7.3)(11,7.0)(12,6.8)}
\pL{s1}{(8,3.8)(9,5.6)(10,6.2)(11,6.8)(12,6.8)}
\nextgroupplot[title={UC-1}]
\pR{s3}{(1,1.8)(2,1.8)}
\pR{s2}{(1,1.25)(2,1.25)(3,1.25)}
\pC{s1}{(1,0.49)(2,0.52)(3,0.88)(4,1.35)}
\pR{s3}{(10,1.85)(11,1.9)(12,1.9)}
\pC{s2}{(10,1.47)(11,1.3)(12,1.25)}
\pC{s1}{(11,0.56)(12,0.49)}
\pB{s3}{(1,0.53)(2,0.5)(3,1.12)(4,1.35)(5,1.43)}
\pB{s2}{(1,0.28)(2,0.35)(3,0.77)(4,1.3)(5,0.98)(6,1.12)}
\pB{s1}{(2,0.84)(3,1.15)(4,1.3)(5,0.71)(6,0.8)(7,0.91)}
\pB{s3}{(12,0.27)}
\pG{s3}{(3,1.47)(4,1.25)(5,0.56)(6,0.63)(7,0.71)(8,0.71)}
\pG{s2}{(4,1.2)(5,0.48)(6,0.39)(7,0.43)(8,0.44)(9,0.46)}
\pG{s1}{(5,0.36)(6,0.2)(7,0.26)(8,0.27)(9,0.28)(10,0.3)}
\pO{s3}{(6,0.13)(7,0.18)(8,0.2)(9,0.25)(10,0.33)(11,0.42)}
\pO{s2}{(7,0.24)(8,0.32)(9,0.49)(10,0.88)(11,1.2)(12,1.25)}
\pL{s1}{(8,1.0)(9,1.35)(10,1.85)(11,2.0)(12,1.9)}
\nextgroupplot[title={UC-2}]
\pR{s3}{(1,1.3)(2,1.3)}
\pR{s2}{(1,0.98)(2,0.98)(3,1.25)(4,1.2)}
\pC{s1}{(1,0.41)(2,0.44)(3,0.77)(4,1.15)}
\pR{s3}{(9,0.91)(10,1.3)(11,1.3)(12,1.3)}
\pC{s2}{(10,1.2)(11,0.98)(12,1.0)}
\pC{s1}{(11,0.56)(12,0.47)}
\pB{s3}{(1,0.48)(2,0.49)(3,1.12)(4,1.2)(5,1.3)}
\pB{s2}{(1,0.25)(2,0.35)(3,0.8)(4,1.1)(5,0.94)(6,1.15)}
\pB{s1}{(3,0.98)(4,1.1)(5,0.66)(6,0.77)(7,0.86)}
\pG{s3}{(3,1.2)(4,1.02)(5,0.49)(6,0.59)(7,0.71)(8,0.75)}
\pG{s2}{(4,1.15)(5,0.52)(6,0.42)(7,0.53)(8,0.56)(9,0.59)}
\pG{s1}{(5,0.48)(6,0.25)(7,0.35)(8,0.37)(9,0.38)(10,0.4)}
\pO{s3}{(6,0.15)(7,0.2)(8,0.24)(9,0.27)(10,0.33)(11,0.37)}
\pO{s2}{(7,0.2)(8,0.28)(9,0.41)(10,0.66)(11,1.07)(12,1.1)}
\pL{s1}{(8,0.56)(9,0.91)(10,1.35)(11,1.3)(12,1.2)}
% ---------------- row 10
\nextgroupplot[title={UC-3}]
\pR{s3}{(1,1.38)(2,1.38)}
\pR{s2}{(1,0.79)(2,0.87)(3,1.05)}
\pC{s1}{(1,0.51)(2,0.65)(3,0.97)(4,1.05)}
\pR{s3}{(9,2.0)(10,1.75)(11,1.57)(12,1.45)}
\pC{s2}{(10,1.08)(11,0.82)(12,0.67)}
\pB{s3}{(1,0.43)(2,0.62)(3,1.14)(4,1.02)(5,1.02)}
\pB{s2}{(1,0.57)(2,0.82)(3,1.57)(4,1.0)(5,0.73)(6,0.88)}
\pB{s1}{(2,1.45)(3,1.62)(4,0.97)(5,0.53)(6,0.62)(7,0.7)}
\pB{s3}{(12,0.53)}
\pG{s3}{(3,1.38)(4,0.85)(5,0.34)(6,0.46)(7,0.58)(8,0.6)}
\pG{s2}{(4,0.89)(5,0.34)(6,0.43)(7,0.57)(8,0.58)(9,0.57)}
\pG{s1}{(5,0.36)(6,0.33)(7,0.4)(8,0.41)(9,0.43)(10,0.45)}
\pO{s3}{(6,0.22)(7,0.27)(8,0.3)(9,0.34)(10,0.4)(11,0.43)}
\pO{s2}{(7,0.19)(8,0.27)(9,0.41)(10,0.65)(11,0.76)(12,0.82)}
\pL{s1}{(8,0.47)(9,1.05)(10,1.27)(11,1.38)(12,1.33)}
\nextgroupplot[title={LC-1}]
\pR{s3}{(1,3.7)(2,3.5)}
\pR{s2}{(1,2.35)(2,2.4)(3,2.75)(4,2.6)}
\pC{s1}{(1,2.05)(2,2.3)(3,2.55)(4,2.75)}
\pR{s3}{(9,5.4)(10,4.5)(11,4.3)(12,4.2)}
\pC{s2}{(10,2.9)(11,2.75)(12,2.4)}
\pC{s1}{(11,2.35)(12,2.1)}
\pB{s3}{(1,1.7)(2,1.9)(3,2.15)(4,2.25)(5,2.25)}
\pB{s2}{(1,1.7)(2,1.7)(3,1.7)(4,1.7)(5,1.7)(6,1.7)}
\pB{s1}{(2,1.08)(3,0.9)(4,0.85)(5,0.92)(6,0.94)(7,0.94)}
\pG{s3}{(3,0.49)(4,0.47)(5,0.53)(6,0.55)(7,0.55)(8,0.55)}
\pG{s2}{(4,0.21)(5,0.25)(6,0.28)(7,0.29)(8,0.31)(9,0.37)(10,0.43)}
\pG{s1}{(5,0.24)(6,0.29)(7,0.28)(8,0.29)(9,0.33)}
\pO{s3}{(6,0.41)(7,0.49)(8,0.65)(9,1.05)(10,1.23)(11,1.52)}
\pO{s2}{(7,1.45)(8,1.85)(9,3.0)(10,3.3)(11,3.8)(12,4.0)}
\pL{s1}{(8,3.7)(9,5.2)(10,4.8)(11,4.8)(12,4.6)}
\nextgroupplot[title={LC-2}]
\pR{s3}{(1,3.1)(2,3.3)}
\pR{s2}{(1,2.25)(2,2.6)(3,3.0)(4,2.75)}
\pC{s1}{(1,2.0)(2,2.15)(3,2.75)}
\pR{s3}{(9,4.3)(10,4.3)(11,3.7)(12,3.6)}
\pC{s2}{(10,2.35)(11,2.0)(12,1.85)}
\pC{s1}{(11,1.57)(12,1.7)}
\pB{s3}{(1,2.0)(2,2.15)(3,2.4)(4,2.4)(5,2.4)}
\pB{s2}{(1,1.3)(2,1.33)(3,1.45)(4,1.45)(5,1.45)(6,1.45)}
\pB{s1}{(2,0.58)(3,0.73)(4,0.76)(5,0.79)(6,0.79)(7,0.79)}
\pB{s3}{(12,1.7)}
\pG{s3}{(3,0.51)(4,0.51)(5,0.53)(6,0.55)(7,0.55)(8,0.55)}
\pG{s2}{(4,0.23)(5,0.28)(6,0.29)(7,0.3)(8,0.32)(9,0.39)}
\pG{s1}{(5,0.2)(6,0.28)(7,0.3)(8,0.47)(9,0.68)(10,1.05)}
\pO{s3}{(6,0.25)(7,0.58)(8,1.05)(9,1.9)(10,2.75)(11,3.0)}
\pO{s2}{(7,2.15)(8,2.55)(9,3.8)(10,4.4)(11,4.1)(12,4.3)}
\pL{s1}{(8,3.5)(9,5.0)(10,5.0)(11,4.3)(12,4.3)}
\nextgroupplot[title={LC-3}]
\pR{s3}{(1,7.2)(2,7.0)}
\pR{s2}{(1,4.7)(2,4.9)(3,5.3)}
\pC{s1}{(1,3.2)(2,3.2)(3,3.2)(4,3.2)}
\pR{s3}{(9,5.0)(10,9.5)(11,8.5)(12,8.0)}
\pC{s2}{(10,3.9)(11,3.9)(12,4.1)}
\pC{s1}{(11,2.75)(12,3.1)}
\pB{s3}{(1,3.1)(2,2.75)(3,2.65)(4,2.65)(5,2.65)}
\pB{s2}{(1,1.8)(2,1.45)(3,1.38)(4,1.38)(5,1.38)(6,1.38)}
\pB{s1}{(2,0.67)(3,0.76)(4,0.76)(5,0.76)(6,0.76)(7,0.76)}
\pG{s3}{(3,0.6)(4,0.57)(5,0.58)(6,0.58)(7,0.62)(8,0.68)}
\pG{s2}{(4,0.34)(5,0.38)(6,0.4)(7,0.7)(8,1.05)(9,1.2)}
\pG{s1}{(5,0.76)(6,0.79)(7,1.45)(8,2.4)(9,2.6)(10,4.7)}
\pO{s3}{(6,1.22)(7,2.55)(8,3.4)(9,3.8)(10,6.6)(11,6.4)}
\pO{s2}{(7,4.1)(8,4.3)(9,4.7)(10,7.7)(11,7.2)(12,7.0)}
\pL{s1}{(8,3.4)(9,4.2)(10,8.5)(11,7.7)(12,8.0)}
% ---------------- row 11
\nextgroupplot[title={GB-1}]
\pR{s3}{(1,2.8)(2,2.8)}
\pR{s2}{(1,1.05)(2,1.1)(3,1.95)(4,1.65)}
\pC{s1}{(1,1.02)(2,1.2)(3,1.8)(4,1.65)}
\pR{s3}{(9,4.7)(10,3.5)(11,3.0)(12,2.9)}
\pC{s2}{(10,1.55)(11,1.15)(12,1.15)}
\pC{s1}{(11,1.02)(12,0.97)}
\pB{s3}{(1,1.52)(2,1.57)(3,1.7)(4,1.34)(5,1.47)}
\pB{s2}{(1,1.23)(2,1.95)(3,1.57)(4,1.05)(5,0.97)(6,1.1)}
\pB{s1}{(1,1.1)(2,1.4)(3,1.65)(4,0.87)(5,0.7)(6,0.84)(7,0.87)}
\pB{s3}{(12,0.91)}
\pG{s3}{(3,1.1)(4,0.6)(5,0.42)(6,0.58)(7,0.6)(8,0.6)}
\pG{s2}{(4,0.51)(5,0.3)(6,0.45)(7,0.46)(8,0.46)(9,0.47)}
\pG{s1}{(5,0.4)(6,0.43)(7,0.42)(8,0.47)(9,0.49)(10,0.5)}
\pO{s3}{(6,0.4)(7,0.4)(8,0.47)(9,0.53)(10,0.61)(11,0.68)}
\pO{s2}{(7,0.43)(8,0.65)(9,1.33)(10,1.8)(11,2.15)(12,2.4)}
\pL{s1}{(8,2.2)(9,3.6)(10,3.8)(11,3.6)(12,3.6)}
\nextgroupplot[title={GB-2}]
\pR{s3}{(1,6.8)(2,7.6)}
\pR{s2}{(1,4.9)(2,5.3)(3,5.1)}
\pC{s1}{(1,4.1)(2,4.1)(3,3.8)(4,3.5)}
\pR{s3}{(9,3.1)(10,3.1)(11,3.1)(12,4.3)}
\pC{s2}{(10,1.95)(11,2.1)(12,2.9)}
\pC{s1}{(11,2.0)(12,2.5)}
\pB{s3}{(1,2.8)(2,2.8)(3,2.65)(4,2.3)(5,2.35)}
\pB{s2}{(1,1.95)(2,1.95)(3,1.72)(4,1.4)(5,1.4)(6,1.52)}
\pB{s1}{(2,1.8)(3,1.36)(4,0.94)(5,0.77)(6,0.87)(7,0.91)}
\pG{s3}{(3,0.94)(4,0.6)(5,0.43)(6,0.56)(7,0.6)(8,0.6)}
\pG{s2}{(4,0.6)(5,0.25)(6,0.3)(7,0.33)(8,0.33)(9,0.34)}
\pG{s1}{(5,0.26)(6,0.31)(7,0.34)(8,0.36)(9,0.34)(10,0.32)}
\pO{s3}{(6,0.19)(7,0.19)(8,0.19)(9,0.2)(10,0.23)(11,0.25)}
\pO{s2}{(7,0.11)(8,0.12)(9,0.21)(10,0.32)(11,0.43)(12,0.63)}
\pL{s1}{(8,0.42)(9,0.74)(10,1.13)(11,1.5)(12,2.1)}
\nextgroupplot[title={PNW-1}]
\pR{s3}{(1,1.13)(2,1.27)}
\pR{s2}{(1,1.2)(2,1.2)(3,1.27)(4,1.2)}
\pR{s3}{(9,1.1)(10,1.02)(11,1.1)(12,1.1)}
\pC{s2}{(10,1.1)(11,1.36)(12,1.13)}
\pB{s3}{(1,1.1)(2,1.1)(3,1.23)(4,1.13)(5,1.23)}
\pB{s2}{(1,1.02)(2,1.27)(3,1.27)(4,1.05)(5,0.84)(6,0.91)}
\pB{s1}{(2,1.73)(3,1.52)(4,1.1)(5,0.65)(6,0.58)(7,0.58)}
\pB{s3}{(12,1.2)}
\pG{s3}{(3,1.47)(4,1.02)(5,0.56)(6,0.42)(7,0.42)(8,0.45)}
\pG{s2}{(4,0.97)(5,0.55)(6,0.39)(7,0.36)(8,0.39)(9,0.39)}
\pG{s1}{(5,0.53)(6,0.35)(7,0.31)(8,0.31)(9,0.33)(10,0.35)}
\pO{s3}{(6,0.25)(7,0.25)(8,0.27)(9,0.29)(10,0.31)(11,0.36)}
\pO{s2}{(7,0.2)(8,0.27)(9,0.31)(10,0.37)(11,0.42)(12,0.49)}
\pL{s1}{(8,0.39)(9,0.63)(10,0.74)(11,0.87)(12,0.97)}
\nextgroupplot[title={PNW-2}]
\pR{s3}{(1,2.45)(2,2.8)(3,2.75)}
\pC{s2}{(1,2.45)(2,2.65)(3,2.55)(4,2.45)}
\pR{s3}{(9,0.97)(10,1.36)(11,1.7)(12,2.0)}
\pC{s2}{(10,1.78)(11,2.55)(12,2.6)}
\pC{s1}{(11,1.95)(12,2.3)}
\pB{s3}{(1,2.45)(2,2.55)(3,2.35)(4,1.87)(5,1.85)}
\pB{s2}{(1,2.2)(2,1.95)(3,1.6)(4,1.27)(5,1.23)(6,1.05)}
\pB{s1}{(2,2.45)(3,1.65)(4,1.15)(5,0.97)(6,0.65)(7,0.51)}
\pG{s3}{(3,1.33)(4,0.94)(5,0.9)(6,0.49)(7,0.39)(8,0.39)}
\pG{s2}{(4,1.02)(5,0.94)(6,0.43)(7,0.28)(8,0.26)(9,0.26)}
\pG{s1}{(5,0.87)(6,0.37)(7,0.21)(8,0.19)(9,0.19)(10,0.19)}
\pO{s3}{(6,0.33)(7,0.14)(8,0.14)(9,0.14)(10,0.18)(11,0.23)}
\pO{s2}{(7,0.1)(8,0.11)(9,0.16)(10,0.19)(11,0.28)(12,0.35)}
\pL{s1}{(8,0.26)(9,0.35)(10,0.63)(11,0.94)(12,1.2)}
% ---------------- row 12
\nextgroupplot[title={PNW-3}]
\pR{s3}{(1,5.2)(2,5.9)(3,5.4)}
\pR{s2}{(1,4.5)(2,5.6)}
\pC{s1}{(1,3.2)(2,3.55)(3,3.6)(4,3.85)}
\pR{s3}{(9,2.2)(10,3.6)(11,3.85)(12,4.5)}
\pC{s2}{(10,3.35)(11,3.85)(12,4.0)}
\pC{s1}{(11,2.85)(12,2.85)}
\pB{s3}{(1,2.2)(2,2.5)(3,2.65)(4,2.65)(5,2.65)}
\pB{s2}{(1,1.67)(2,1.97)(3,2.07)(4,1.97)(5,1.8)(6,1.67)}
\pB{s1}{(2,1.5)(3,1.42)(4,1.27)(5,1.08)(6,0.95)(7,0.88)}
\pB{s3}{(12,2.07)}
\pG{s3}{(3,1.0)(4,0.91)(5,0.81)(6,0.66)(7,0.61)(8,0.59)}
\pG{s2}{(4,0.95)(5,0.85)(6,0.5)(7,0.39)(8,0.38)(9,0.38)}
\pG{s1}{(5,0.77)(6,0.36)(7,0.24)(8,0.23)(9,0.24)(10,0.32)}
\pO{s3}{(6,0.31)(7,0.16)(8,0.17)(9,0.21)(10,0.35)(11,0.62)}
\pO{s2}{(7,0.1)(8,0.13)(9,0.23)(10,0.54)(11,1.03)(12,1.67)}
\pL{s1}{(8,0.38)(9,0.84)(10,1.97)(11,3.0)(12,3.5)}
\nextgroupplot[title={CA-1}]
\pC{s2,mark indices={1,2,3}}{(1,7.1)(2,8.4)(3,9.8)(4,11)}
\pR{s3,mark indices={1,2}}{(9,2.8)(10,6.7)(11,15)}
\pR{s2,mark indices={1}}{(10,7.6)(11,13)}
\pC{s1}{(11,5.6)(12,5.6)}
\pB{s3}{(1,2.5)(2,3.1)(3,3.45)(4,3.6)(5,3.6)}
\pB{s2}{(1,1.8)(2,2.35)(3,2.7)(4,2.55)(5,2.55)(6,2.55)}
\pB{s1}{(2,1.9)(3,2.0)(4,2.0)(5,1.95)(6,1.9)(7,1.87)}
\pB{s3}{(12,1.7)}
\pG{s3}{(3,1.47)(4,1.5)(5,1.42)(6,1.35)(7,1.3)(8,1.3)}
\pG{s2}{(4,0.59)(5,0.56)(6,0.53)(7,0.5)(8,0.5)(9,0.5)}
\pG{s1}{(5,0.37)(6,0.33)(7,0.29)(8,0.29)(9,0.29)(10,0.29)}
\pO{s3}{(6,0.26)(7,0.19)(8,0.2)(9,0.21)(10,0.31)(11,1.42)}
\pO{s2,mark indices={2,3,4,5}}{(7,0.09)(8,0.15)(9,0.22)(10,0.72)(11,3.6)(12,12)}
\pL{s1,mark indices={1,2,3}}{(8,0.52)(9,0.95)(10,3.45)(11,12)}
\nextgroupplot[title={CA-2}]
\pC{s2}{(1,7.6)(2,8.6)(3,9.5)(4,9.8)}
\pR{s3,mark indices={1,2,3}}{(9,3.45)(10,5.4)(11,9.8)(12,15)}
\pR{s2,mark indices={1}}{(10,3.85)(11,11)}
\pC{s1}{(11,4.8)(12,5.1)}
\pB{s3}{(1,2.55)(2,3.0)(3,3.45)(4,3.45)(5,3.55)}
\pB{s2}{(1,1.72)(2,2.2)(3,2.5)(4,2.4)(5,2.4)(6,2.4)}
\pB{s1}{(2,1.67)(3,1.72)(4,1.5)(5,1.38)(6,1.38)(7,1.38)}
\pB{s3}{(12,1.42)}
\pG{s3}{(3,1.27)(4,1.03)(5,0.92)(6,0.91)(7,0.91)(8,0.91)}
\pG{s2}{(4,0.54)(5,0.37)(6,0.35)(7,0.35)(8,0.35)(9,0.35)}
\pG{s1}{(5,0.27)(6,0.17)(7,0.19)(8,0.2)(9,0.2)(10,0.19)}
\pO{s3}{(10,0.1)(11,0.3)(12,0.8)}
\pO{s2,mark indices={2,3,4}}{(8,0.09)(9,0.22)(10,1.0)(11,4.8)(12,12)}
\pL{s1,mark indices={2,3,4}}{(9,0.09)(10,0.19)(11,0.85)(12,2.55)}
\nextgroupplot[title={CA-3}]
\pC{s2,mark indices={1,4}}{(1,8.6)(2,10.5)(3,10.2)(4,8.6)}
\pR{s2}{(1,7.6)(2,9.8)}
\pR{s3}{(9,2.4)(10,1.85)(11,2.3)(12,2.6)}
\pC{s2}{(10,0.59)(11,1.42)(12,2.1)}
\pB{s3}{(1,5.8)(2,6.7)(3,6.4)(4,5.1)(5,4.5)}
\pB{s2}{(1,5.4)(2,4.8)(3,4.5)(4,3.45)(5,2.95)(6,2.95)}
\pB{s1}{(2,1.47)(3,1.35)(4,1.15)(5,1.07)(6,1.08)(7,1.15)}
\pG{s3}{(3,0.77)(4,0.54)(5,0.53)(6,0.57)(7,0.62)(8,0.62)}
\pG{s2}{(4,0.56)(5,0.29)(6,0.2)(7,0.24)(8,0.24)(9,0.25)}
\pG{s1}{(5,0.33)(6,0.1)(7,0.14)(8,0.14)(9,0.14)(10,0.14)}
\pO{s3,mark indices={2,3}}{(10,0.09)(11,0.13)(12,0.2)}
\pO{s2}{(9,0.14)(10,0.21)(11,0.32)(12,0.45)}
\pL{s1}{(8,0.59)(9,0.9)(10,1.1)(11,1.5)(12,2.0)}
\end{groupplot}
\pgfresetboundingbox
\path[use as bounding box] ([xshift=-32.5pt,yshift=12.7pt]group c1r1.north west) rectangle ([xshift=841.5pt,yshift=-1416.3pt]group c1r1.north west);
\end{tikzpicture}
\end{document}
